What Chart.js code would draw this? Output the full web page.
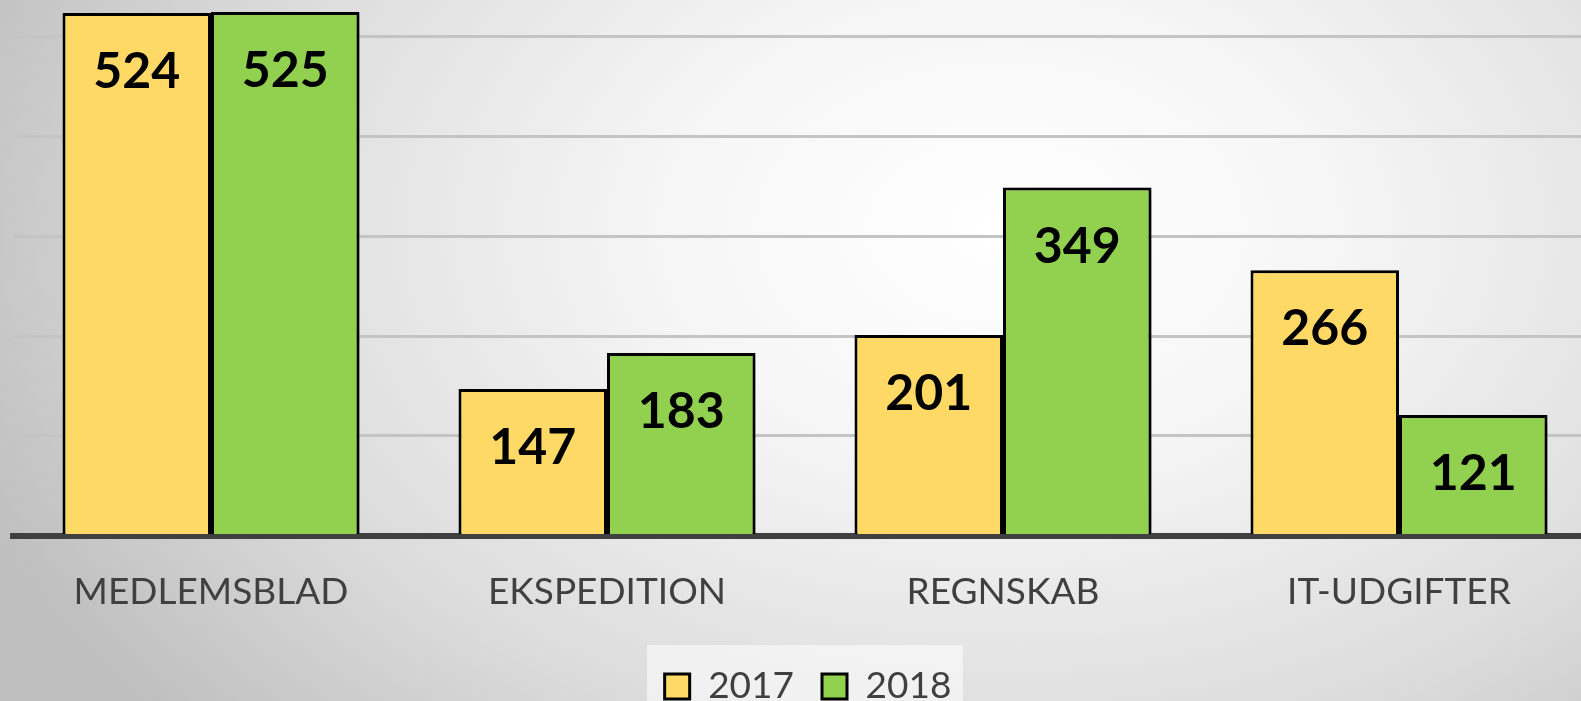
<!DOCTYPE html>
<html>
<head>
<meta charset="utf-8">
<script src="https://cdn.jsdelivr.net/npm/chart.js@4"></script>
<style>
  html, body { margin: 0; padding: 0; }
  body {
    width: 1581px; height: 701px; overflow: hidden;
    background: radial-gradient(ellipse 1100px 750px at 1000px 230px, #ffffff 0%, #f6f6f6 30%, #dcdcdc 70%, #bfbfbf 100%);
  }
  canvas { display: block; }
</style>
</head>
<body>
<canvas id="costChart" width="1581" height="701"></canvas>
<script>
// 데이터
const categories = ['MEDLEMSBLAD', 'EKSPEDITION', 'REGNSKAB', 'IT-UDGIFTER'];
const values2017 = [524, 147, 201, 266];
const values2018 = [525, 183, 349, 121];
const seriesNames = ['2017', '2018'];

const textColor = '#404040';
const fontFamily = 'Lato, "Open Sans", sans-serif';

// 플롯 영역을 원본 배치에 맞춤 (왼쪽 13px, 오른쪽은 캔버스 밖까지)
const stretchX = {
    id: 'stretchX',
    afterLayout(chart) {
        chart.chartArea.left = 13;
        chart.chartArea.width = chart.chartArea.right - 13;
        const x = chart.scales.x;
        x.left = 13;
        x.right = 13 + 1584;
        x.width = 1584;
        x.configure();
    }
};

// 막대 그림자
const barShadow = {
    id: 'barShadow',
    beforeDatasetsDraw(chart) {
        const ctx = chart.ctx;
        ctx.save();
        ctx.shadowColor = 'rgba(0,0,0,0.35)';
        ctx.shadowBlur = 8;
        ctx.shadowOffsetX = 5;
        ctx.shadowOffsetY = 2;
    },
    afterDatasetsDraw(chart) {
        chart.ctx.restore();
    }
};

// 값 라벨 (막대 안쪽 위)
const valueLabels = {
    id: 'valueLabels',
    afterDatasetsDraw(chart) {
        const ctx = chart.ctx;
        ctx.save();
        ctx.font = `bold 50px ${fontFamily}`;
        ctx.fillStyle = '#000';
        ctx.textAlign = 'center';
        ctx.textBaseline = 'middle';
        chart.data.datasets.forEach((ds, i) => {
            chart.getDatasetMeta(i).data.forEach((bar, j) => {
                ctx.fillText(ds.data[j], bar.x, bar.y + 59);
            });
        });
        ctx.restore();
    }
};

// 범례 배경
const legendBox = {
    id: 'legendBox',
    beforeDraw(chart) {
        const ctx = chart.ctx;
        ctx.save();
        ctx.fillStyle = 'rgba(255,255,255,0.55)';
        ctx.fillRect(647, 645, 316, 60);
        ctx.restore();
    }
};

new Chart(document.getElementById('costChart'), {
    type: 'bar',
    data: {
        labels: categories,
        datasets: [
            { label: seriesNames[0], data: values2017, backgroundColor: '#FFD966', borderColor: '#000', borderWidth: 3 },
            { label: seriesNames[1], data: values2018, backgroundColor: '#92D050', borderColor: '#000', borderWidth: 3 }
        ]
    },
    options: {
        responsive: false,
        animation: false,
        devicePixelRatio: 1,
        layout: { padding: { left: 35, right: 0, top: 0, bottom: -14 } },
        datasets: { bar: { categoryPercentage: 0.75, barPercentage: 1.0, borderSkipped: 'bottom' } },
        scales: {
            x: {
                grid: { display: false },
                border: { display: true, color: '#404040', width: 6 },
                ticks: { color: textColor, font: { family: fontFamily, size: 37 }, padding: 26 }
            },
            y: {
                min: 0,
                max: 537,
                afterBuildTicks: axis => {
                    axis.ticks = [0, 100, 200, 300, 400, 500].map(v => ({ value: v }));
                },
                ticks: { display: false },
                border: { display: false },
                grid: { color: '#c4c4c4', lineWidth: 3, drawTicks: false }
            }
        },
        plugins: {
            legend: {
                position: 'bottom',
                labels: {
                    color: textColor,
                    font: { family: fontFamily, size: 37 },
                    boxWidth: 25,
                    boxHeight: 25,
                    padding: 28
                }
            },
            tooltip: { enabled: false }
        }
    },
    plugins: [stretchX, legendBox, barShadow, valueLabels]
});
</script>
</body>
</html>
